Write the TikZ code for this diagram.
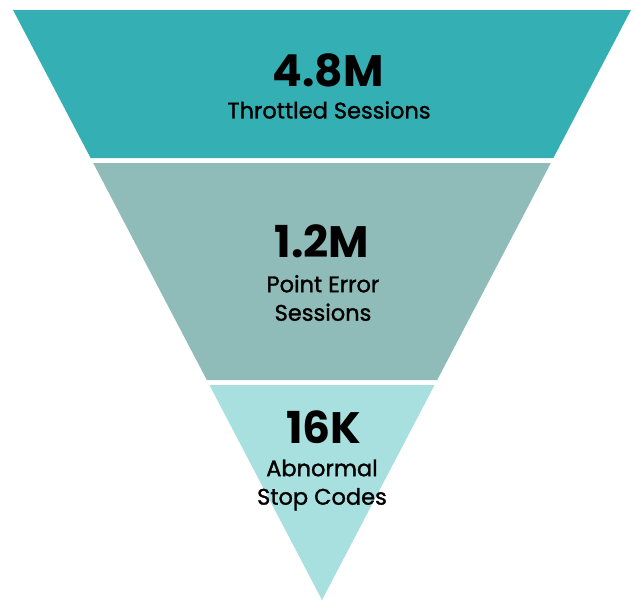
\documentclass[tikz,border=0pt]{standalone}
\usepackage{fontspec}
\setmainfont{Poppins}
\newfontfamily\captionface{Poppins}[FakeBold=1.4]
\definecolor{bandA}{RGB}{52,176,180}
\definecolor{bandB}{RGB}{143,187,185}
\definecolor{bandC}{RGB}{168,224,224}
\begin{document}
\begin{tikzpicture}[x=1pt,y=-1pt,
  figure/.style={font=\bfseries\fontsize{44}{46}\selectfont, text=black, inner sep=0pt},
  caption/.style={font=\captionface\fontsize{22.5}{28.5}\selectfont, text=black, align=center, inner sep=0pt}]
  \useasboundingbox (0,0) rectangle (635,600);
  % funnel bands: one triangle (13,10)-(631,10)-(322,600) cut at y=158/163 and 380/385
  \fill[bandA] (13,10) -- (631,10) -- (553.4,158) -- (90.6,158) -- cycle;
  \fill[bandB] (93.2,163) -- (550.8,163) -- (437.2,380) -- (206.8,380) -- cycle;
  \fill[bandC] (209.4,385) -- (434.6,385) -- (322,600) -- cycle;
  % labels
  \node[figure] (n1) at (328,70) {4.8M};
  \node[caption] (c1) at (329,110) {Throttled Sessions};
  \node[figure] (n2) at (322,241) {1.2M};
  \node[caption] (c2) at (323,298) {Point Error\\Sessions};
  \node[figure] (n3) at (324,427) {16K};
  \node[caption] (c3) at (322,485) {Abnormal\\Stop Codes};
\end{tikzpicture}
\end{document}
